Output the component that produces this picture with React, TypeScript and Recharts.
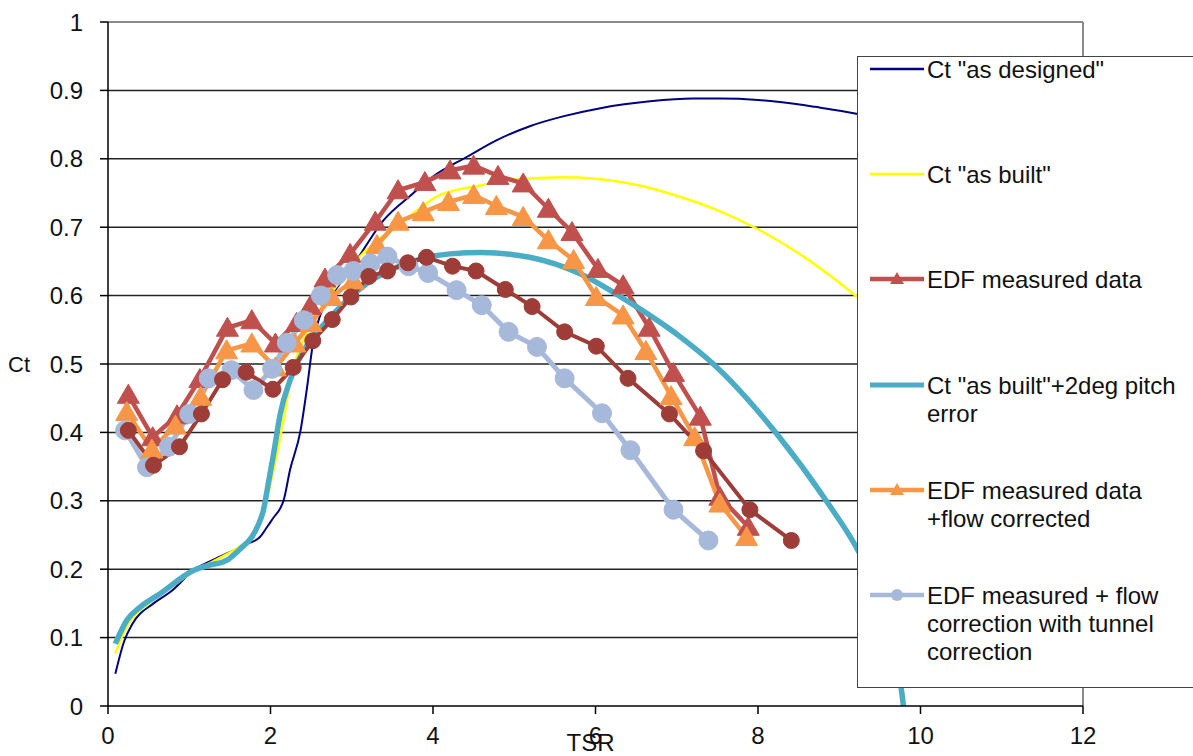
import React from "react";
import { LineChart, Line, XAxis, YAxis, ReferenceLine, Legend, Label } from "recharts";

// ---------- data ----------
const designedX = [0.09, 0.2, 0.3, 0.56, 0.77, 1.07, 1.3, 1.55, 1.71, 1.87, 1.96, 2.04, 2.12, 2.16, 2.24, 2.37, 2.45, 2.52, 2.65, 2.78, 3.06, 3.39, 3.72, 4.0, 4.42, 4.78, 5.2, 5.6, 6.06, 6.67, 7.2, 7.53, 8.0, 8.27, 8.7, 9.21, 9.6];
const designedY = [0.047, 0.095, 0.12, 0.15, 0.167, 0.2, 0.214, 0.228, 0.237, 0.247, 0.262, 0.276, 0.289, 0.3, 0.345, 0.403, 0.466, 0.528, 0.583, 0.605, 0.652, 0.71, 0.746, 0.774, 0.803, 0.827, 0.848, 0.862, 0.874, 0.884, 0.888, 0.888, 0.886, 0.883, 0.876, 0.866, 0.855];

const builtX = [0.09, 0.23, 0.5, 0.8, 1.07, 1.3, 1.55, 1.75, 1.83, 1.96, 2.08, 2.18, 2.26, 2.37, 2.6, 2.8, 3.1, 3.5, 3.72, 4.05, 4.58, 4.95, 5.6, 6.0, 6.5, 7.0, 7.5, 8.0, 8.5, 9.0, 9.3, 9.6];
const builtY = [0.077, 0.116, 0.15, 0.176, 0.198, 0.212, 0.228, 0.245, 0.257, 0.306, 0.369, 0.432, 0.486, 0.525, 0.578, 0.612, 0.657, 0.698, 0.717, 0.745, 0.761, 0.769, 0.773, 0.771, 0.762, 0.746, 0.725, 0.697, 0.662, 0.619, 0.59, 0.558];

const pitchX = [0.09, 0.23, 0.4, 0.64, 1.05, 1.25, 1.46, 1.63, 1.77, 1.85, 1.91, 1.98, 2.04, 2.12, 2.24, 2.41, 2.53, 2.78, 3.19, 3.72, 4.21, 4.6, 5.19, 5.81, 6.42, 7.04, 7.45, 8.23, 8.84, 9.21, 9.5, 9.7, 9.82];
const pitchY = [0.091, 0.125, 0.145, 0.164, 0.198, 0.206, 0.213, 0.23, 0.247, 0.265, 0.285, 0.33, 0.37, 0.427, 0.476, 0.52, 0.54, 0.574, 0.618, 0.649, 0.661, 0.663, 0.656, 0.632, 0.59, 0.54, 0.5, 0.398, 0.3, 0.232, 0.16, 0.08, -0.03];

const edfX = [0.25, 0.55, 0.85, 1.13, 1.47, 1.77, 2.06, 2.32, 2.49, 2.67, 2.98, 3.29, 3.57, 3.9, 4.21, 4.5, 4.8, 5.11, 5.42, 5.71, 6.03, 6.34, 6.66, 6.96, 7.29, 7.53, 7.88];
const edfY = [0.455, 0.393, 0.425, 0.478, 0.553, 0.564, 0.53, 0.56, 0.585, 0.625, 0.661, 0.708, 0.754, 0.766, 0.783, 0.79, 0.775, 0.764, 0.727, 0.693, 0.639, 0.615, 0.553, 0.487, 0.423, 0.306, 0.262];

const flowX = [0.23, 0.54, 0.83, 1.14, 1.46, 1.77, 2.06, 2.3, 2.5, 2.75, 3.02, 3.31, 3.57, 3.88, 4.19, 4.5, 4.78, 5.11, 5.42, 5.73, 6.01, 6.34, 6.62, 6.93, 7.22, 7.53, 7.86];
const flowY = [0.43, 0.375, 0.41, 0.452, 0.52, 0.53, 0.495, 0.53, 0.56, 0.598, 0.622, 0.674, 0.708, 0.722, 0.737, 0.747, 0.731, 0.715, 0.681, 0.652, 0.598, 0.571, 0.519, 0.453, 0.393, 0.296, 0.247];

const tunnelX = [0.21, 0.48, 0.75, 1.0, 1.24, 1.52, 1.79, 2.02, 2.2, 2.41, 2.62, 2.82, 3.02, 3.23, 3.44, 3.7, 3.94, 4.29, 4.6, 4.93, 5.28, 5.62, 6.08, 6.43, 6.96, 7.39];
const tunnelY = [0.403, 0.349, 0.379, 0.427, 0.479, 0.491, 0.462, 0.493, 0.531, 0.564, 0.6, 0.63, 0.636, 0.647, 0.657, 0.643, 0.633, 0.608, 0.586, 0.547, 0.525, 0.479, 0.428, 0.374, 0.287, 0.242];

const rawX = [0.25, 0.56, 0.88, 1.15, 1.41, 1.7, 2.03, 2.28, 2.52, 2.76, 2.99, 3.21, 3.44, 3.69, 3.92, 4.24, 4.53, 4.89, 5.22, 5.62, 6.01, 6.4, 6.91, 7.33, 7.9, 8.41];
const rawY = [0.403, 0.352, 0.379, 0.427, 0.477, 0.488, 0.463, 0.495, 0.534, 0.565, 0.598, 0.628, 0.636, 0.648, 0.656, 0.643, 0.636, 0.609, 0.584, 0.547, 0.526, 0.479, 0.427, 0.373, 0.287, 0.242];

const xTicks = [0, 2, 4, 6, 8, 10, 12];
const yTicks = [0, 0.1, 0.2, 0.3, 0.4, 0.5, 0.6, 0.7, 0.8, 0.9, 1];
const gridValues = [0.1, 0.2, 0.3, 0.4, 0.5, 0.6, 0.7, 0.8, 0.9];

const zip = (xs: number[], ys: number[]) => xs.map((x, i) => ({ x, y: ys[i] }));

const designed = zip(designedX, designedY);
const built = zip(builtX, builtY);
const pitch = zip(pitchX, pitchY);
const edf = zip(edfX, edfY);
const flow = zip(flowX, flowY);
const tunnel = zip(tunnelX, tunnelY);
const raw = zip(rawX, rawY);

const C = {
  navy: "#000080",
  yellow: "#FFFF00",
  red: "#C0504D",
  teal: "#4BACC6",
  orange: "#F79646",
  blue: "#A7B9DA",
  dark: "#9E3C37",
};

const FONT = '"Liberation Sans", Arial, sans-serif';

const triangleDot = (color: string) => (props: any) => {
  const { cx, cy, index } = props;
  if (cx == null || cy == null) return <g key={index} />;
  return (
    <path
      key={index}
      d={`M${cx},${cy - 10.5} L${cx + 11},${cy + 8.5} L${cx - 11},${cy + 8.5} Z`}
      fill={color}
      stroke={color}
      strokeWidth={1}
    />
  );
};

const circleDot = (color: string, r: number) => (props: any) => {
  const { cx, cy, index } = props;
  if (cx == null || cy == null) return <g key={index} />;
  return <circle key={index} cx={cx} cy={cy} r={r} fill={color} stroke={color} strokeWidth={1} />;
};

const legendItems = [
  { lines: ['Ct "as designed"'], color: C.navy, width: 2.5, marker: "none" },
  { lines: ['Ct "as built"'], color: C.yellow, width: 2.5, marker: "none" },
  { lines: ["EDF measured data"], color: C.red, width: 4.5, marker: "tri" },
  { lines: ['Ct "as built"+2deg pitch', "error"], color: C.teal, width: 5, marker: "none" },
  { lines: ["EDF measured data", "+flow corrected"], color: C.orange, width: 4.5, marker: "tri" },
  { lines: ["EDF measured + flow", "correction with tunnel", "correction"], color: C.blue, width: 4.5, marker: "circle" },
];

const LegendBox = () => (
  <div
    style={{
      width: 336,
      height: 632,
      background: "#fff",
      borderLeft: "1.5px solid #444",
      borderTop: "1.5px solid #444",
      borderBottom: "1.5px solid #444",
      boxSizing: "border-box",
      position: "relative",
      fontFamily: FONT,
      fontSize: 24,
      color: "#111",
    }}
  >
    {legendItems.map((it, i) => {
      const center = 12 + i * 105.2;
      return (
        <div key={i}>
          <svg
            width={58}
            height={24}
            style={{ position: "absolute", left: 10, top: center - 12 }}
          >
            <line x1={2} y1={12} x2={56} y2={12} stroke={it.color} strokeWidth={it.width} />
            {it.marker === "tri" && <path d="M29,5 L36,17 L22,17 Z" fill={it.color} />}
            {it.marker === "circle" && <circle cx={29} cy={12} r={6} fill={it.color} />}
          </svg>
          <div
            style={{
              position: "absolute",
              left: 69,
              top: center - 13,
              lineHeight: "28px",
              whiteSpace: "nowrap",
            }}
          >
            {it.lines.map((l, j) => (
              <div key={j} style={{ height: 28 }}>{l}</div>
            ))}
          </div>
        </div>
      );
    })}
  </div>
);

export default function App() {
  return (
    <div style={{ position: "absolute", left: 0, top: 0, width: 1193, height: 756, background: "#fff" }}>
      <LineChart
        width={1193}
        height={756}
        margin={{ top: 22, right: 110, bottom: 0, left: 0 }}
        style={{ fontFamily: FONT }}
      >
        <XAxis
          type="number"
          dataKey="x"
          domain={[0, 12]}
          ticks={xTicks}
          allowDataOverflow
          height={50}
          tickSize={8}
          tickMargin={13}
          stroke="#000"
          strokeWidth={1.5}
          tick={{ fill: "#111", fontSize: 24, fontFamily: FONT }}
        >
          <Label value="TSR" position="insideBottom" offset={5} fill="#111" fontSize={24} fontFamily={FONT} dx={-5} />
        </XAxis>
        <YAxis
          type="number"
          dataKey="y"
          domain={[0, 1]}
          ticks={yTicks}
          allowDataOverflow
          width={108}
          tickSize={8}
          tickMargin={17}
          stroke="#000"
          strokeWidth={1.5}
          tick={{ fill: "#111", fontSize: 24, fontFamily: FONT }}
        >
          <Label value="Ct" position="insideLeft" offset={8} fill="#111" fontSize={22} fontFamily={FONT} />
        </YAxis>
        {gridValues.map((v) => (
          <ReferenceLine key={v} y={v} stroke="#222" strokeWidth={1.5} />
        ))}
        <ReferenceLine y={1} stroke="#8a8a8a" strokeWidth={2} />
        <ReferenceLine x={12} stroke="#8a8a8a" strokeWidth={2} />

        <Line data={designed} dataKey="y" type="monotone" stroke={C.navy} strokeWidth={2} dot={false} isAnimationActive={false} name='Ct "as designed"' />
        <Line data={built} dataKey="y" type="monotone" stroke={C.yellow} strokeWidth={2.5} dot={false} isAnimationActive={false} name='Ct "as built"' />
        <Line data={edf} dataKey="y" type="linear" stroke={C.red} strokeWidth={4.5} dot={triangleDot(C.red)} isAnimationActive={false} name="EDF measured data" />
        <Line data={pitch} dataKey="y" type="monotone" stroke={C.teal} strokeWidth={5.5} dot={false} isAnimationActive={false} name='Ct "as built"+2deg pitch error' />
        <Line data={flow} dataKey="y" type="linear" stroke={C.orange} strokeWidth={4.5} dot={triangleDot(C.orange)} isAnimationActive={false} name="EDF measured data +flow corrected" />
        <Line data={tunnel} dataKey="y" type="linear" stroke={C.blue} strokeWidth={5} dot={circleDot(C.blue, 9.5)} isAnimationActive={false} name="EDF measured + flow correction with tunnel correction" />
        <Line data={raw} dataKey="y" type="linear" stroke={C.dark} strokeWidth={4} dot={circleDot(C.dark, 8)} isAnimationActive={false} name="EDF raw" legendType="none" />

        <Legend
          layout="vertical"
          align="center"
          verticalAlign="middle"
          content={() => <LegendBox />}
          wrapperStyle={{ left: 857, top: 56, width: 336, height: 632, margin: 0, padding: 0 }}
        />
      </LineChart>
    </div>
  );
}
